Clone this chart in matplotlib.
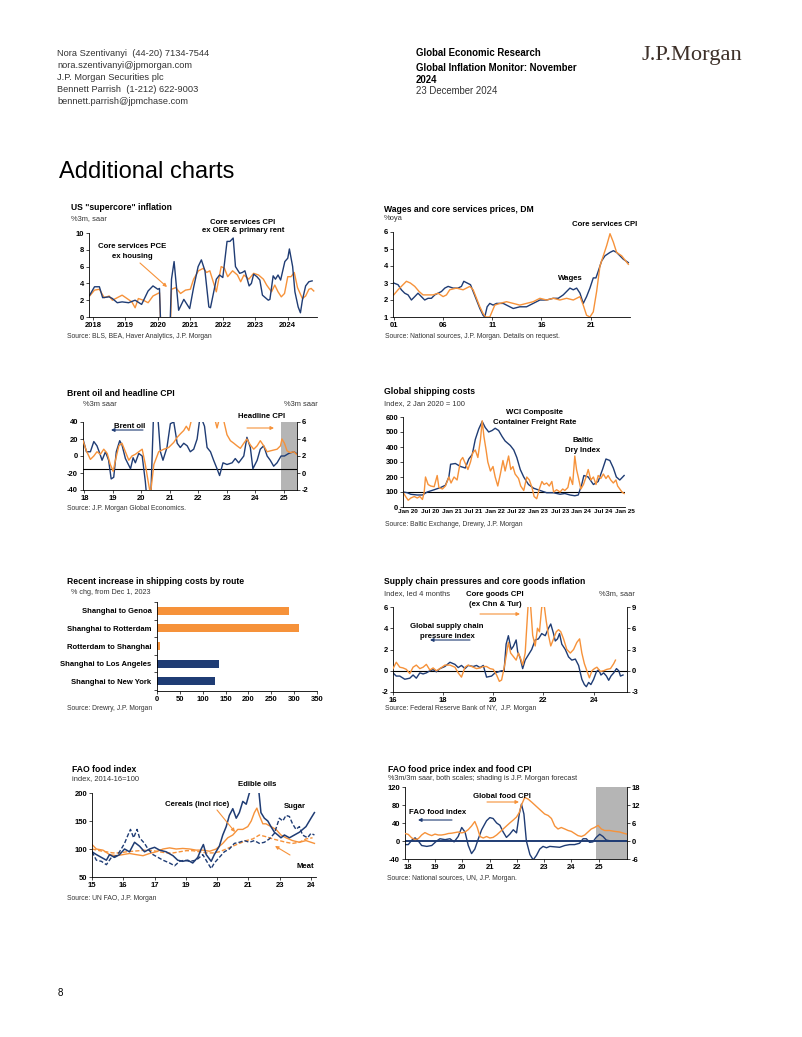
import matplotlib
matplotlib.use("Agg")
import matplotlib.pyplot as plt
from matplotlib.patches import FancyArrowPatch

# ---------------- data ----------------
# US "supercore" inflation, %3m saar
cpi_x = [2017.9, 2018.05, 2018.2, 2018.3, 2018.5, 2018.6, 2018.75, 2018.9, 2019.1, 2019.3,
         2019.5, 2019.7, 2019.85, 2020.0, 2020.05, 2020.12, 2020.25, 2020.36, 2020.42, 2020.5,
         2020.64, 2020.8, 2020.98, 2021.1, 2021.24, 2021.34, 2021.45, 2021.57, 2021.62, 2021.8,
         2021.9, 2022.0, 2022.13, 2022.22, 2022.32, 2022.39, 2022.52, 2022.6, 2022.68, 2022.81,
         2022.88, 2022.95, 2023.05, 2023.14, 2023.22, 2023.4, 2023.45, 2023.55, 2023.62, 2023.7,
         2023.78, 2023.91, 2024.0, 2024.05, 2024.15, 2024.22, 2024.32, 2024.39, 2024.45, 2024.55,
         2024.65, 2024.75]
cpi_y = [2.6, 3.6, 3.6, 2.3, 2.4, 2.2, 1.7, 1.8, 1.7, 2.0,
         1.5, 3.1, 3.7, 3.3, 3.4, -5.0, -8.0, -3.0, 4.5, 6.6,
         0.8, 2.1, 1.0, 3.5, 6.0, 6.8, 5.5, 1.2, 1.1, 4.5,
         5.0, 4.7, 9.0, 9.0, 9.4, 6.0, 5.2, 5.3, 5.5, 3.7,
         4.0, 5.1, 4.8, 4.4, 2.6, 2.0, 2.1, 4.9, 4.5, 5.0,
         4.4, 6.6, 7.0, 8.1, 6.0, 3.0, 1.2, 0.5, 2.0, 3.7,
         4.2, 4.3]
pce_x = [2017.9, 2018.05, 2018.2, 2018.35, 2018.5, 2018.6, 2018.75, 2018.9, 2019.05, 2019.2,
         2019.3, 2019.4, 2019.55, 2019.7, 2019.85, 2020.0, 2020.05, 2020.12, 2020.25, 2020.38,
         2020.42, 2020.55, 2020.7, 2020.85, 2021.0, 2021.1, 2021.25, 2021.4, 2021.5, 2021.6,
         2021.8, 2021.95, 2022.05, 2022.15, 2022.3, 2022.45, 2022.55, 2022.65, 2022.8, 2022.95,
         2023.1, 2023.25, 2023.35, 2023.5, 2023.6, 2023.7, 2023.8, 2023.9, 2024.0, 2024.1,
         2024.2, 2024.3, 2024.45, 2024.55, 2024.65, 2024.72, 2024.8]
pce_y = [2.5, 3.2, 3.3, 2.3, 2.5, 2.0, 2.3, 2.6, 2.2, 1.8,
         1.1, 2.2, 2.0, 1.7, 2.5, 2.8, 2.9, -4.0, -6.0, -2.0,
         3.3, 3.5, 2.8, 3.2, 3.3, 4.5, 5.5, 5.8, 5.3, 5.5,
         3.0, 6.0, 5.8, 4.8, 5.5, 5.0, 4.2, 5.0, 4.5, 5.2,
         5.0, 4.5, 3.8, 3.0, 3.8, 3.0, 2.4, 2.8, 4.8, 4.8,
         5.3, 3.5, 2.2, 2.5, 3.3, 3.4, 3.1]

# Wages and core services prices, DM, %oya
wage_x = [2001.0, 2001.44, 2001.78, 2002.12, 2002.46, 2002.8, 2003.14, 2003.47, 2003.81, 2004.15,
          2004.49, 2004.83, 2005.17, 2005.51, 2005.85, 2006.19, 2006.53, 2007.03, 2007.54, 2007.88,
          2008.12, 2008.46, 2008.8, 2009.07, 2009.41, 2009.75, 2010.08, 2010.25, 2010.49, 2010.76,
          2011.1, 2011.44, 2012.12, 2012.8, 2013.14, 2013.81, 2014.49, 2015.17, 2015.85, 2016.53,
          2017.2, 2017.71, 2018.22, 2018.56, 2018.9, 2019.24, 2019.58, 2019.92, 2020.25, 2020.59,
          2020.93, 2021.27, 2021.54, 2021.78, 2022.12, 2022.46, 2022.97, 2023.31, 2023.64, 2023.98,
          2024.32, 2024.83]
wage_y = [3.0, 2.9, 2.6, 2.4, 2.3, 2.0, 2.2, 2.4, 2.2, 2.0,
          2.1, 2.1, 2.3, 2.4, 2.5, 2.7, 2.8, 2.7, 2.7, 2.8,
          3.1, 3.0, 2.9, 2.5, 2.0, 1.5, 1.1, 1.0, 1.6, 1.8,
          1.7, 1.8, 1.8, 1.6, 1.5, 1.6, 1.6, 1.8, 2.0, 2.0,
          2.1, 2.1, 2.3, 2.5, 2.7, 2.6, 2.7, 2.4, 1.8, 2.2,
          2.7, 3.3, 3.3, 3.7, 4.3, 4.6, 4.8, 4.9, 4.8, 4.6,
          4.4, 4.2]
csv_x = [2001.0, 2001.44, 2001.95, 2002.29, 2002.69, 2003.14, 2003.58, 2003.98, 2004.49, 2005.0,
         2005.51, 2006.02, 2006.36, 2006.69, 2007.37, 2008.05, 2008.39, 2008.73, 2009.07, 2009.41,
         2009.75, 2010.08, 2010.36, 2010.76, 2011.27, 2011.78, 2012.46, 2013.14, 2013.81, 2014.49,
         2015.17, 2015.85, 2016.53, 2017.2, 2017.88, 2018.56, 2019.24, 2019.92, 2020.25, 2020.59,
         2020.93, 2021.27, 2021.61, 2021.95, 2022.29, 2022.63, 2022.97, 2023.31, 2023.64, 2024.15,
         2024.83]
csv_y = [2.3, 2.6, 2.9, 3.1, 3.0, 2.8, 2.5, 2.3, 2.3, 2.3,
         2.4, 2.2, 2.3, 2.6, 2.7, 2.6, 2.7, 2.8, 2.6, 2.1,
         1.6, 1.2, 1.0, 1.0, 1.7, 1.8, 1.9, 1.8, 1.7, 1.8,
         1.9, 2.1, 2.0, 2.1, 2.0, 2.1, 2.0, 2.2, 1.7, 1.1,
         1.0, 1.3, 2.5, 4.0, 4.6, 5.2, 5.9, 5.4, 4.8, 4.6,
         4.1]

# Brent oil (%3m saar, lhs) and headline CPI (%3m saar, rhs)
brent_x = [2017.95, 2018.07, 2018.21, 2018.33, 2018.44, 2018.54, 2018.62, 2018.74, 2018.85, 2018.94,
           2019.03, 2019.12, 2019.24, 2019.32, 2019.44, 2019.62, 2019.71, 2019.79, 2019.91, 2020.03,
           2020.14, 2020.22, 2020.32, 2020.44, 2020.55, 2020.67, 2020.76, 2020.9, 2021.02, 2021.14,
           2021.26, 2021.37, 2021.49, 2021.61, 2021.72, 2021.84, 2021.96, 2022.07, 2022.22, 2022.31,
           2022.43, 2022.54, 2022.66, 2022.75, 2022.87, 2023.01, 2023.19, 2023.3, 2023.42, 2023.6,
           2023.71, 2023.83, 2023.92, 2024.07, 2024.18, 2024.3, 2024.42, 2024.53, 2024.65, 2024.77,
           2024.91, 2025.03, 2025.18, 2025.36, 2025.45]
brent_y = [20, 5, 5, 17, 12, 3, -5, 5, -5, -27,
           -25, 5, 18, 13, -3, -15, -2, -8, 3, 0,
           -30, -60, -60, 60, 60, 5, -5, 10, 38, 40,
           15, 10, 15, 12, 5, 8, 20, 48, 35, 10,
           5, -5, -15, -23, -8, -10, -8, -3, -8, 0,
           22, 10, -15, -5, 8, 12, 0, -5, -12, -8,
           0, 0, 3, 5, 3]
hcpi_x = [2017.95, 2018.07, 2018.21, 2018.33, 2018.44, 2018.56, 2018.68, 2018.8, 2018.91, 2019.01,
          2019.09, 2019.21, 2019.32, 2019.44, 2019.56, 2019.67, 2019.79, 2019.91, 2020.03, 2020.14,
          2020.24, 2020.32, 2020.44, 2020.61, 2020.79, 2020.96, 2021.14, 2021.26, 2021.37, 2021.49,
          2021.58, 2021.67, 2021.78, 2022.07, 2022.43, 2022.57, 2022.66, 2022.75, 2022.84, 2022.92,
          2023.01, 2023.13, 2023.25, 2023.36, 2023.48, 2023.6, 2023.71, 2023.83, 2023.95, 2024.07,
          2024.18, 2024.3, 2024.42, 2024.53, 2024.65, 2024.77, 2024.89, 2024.94, 2025.03, 2025.12,
          2025.24, 2025.36, 2025.45]
hcpi_y = [3.8, 2.6, 1.6, 2.0, 2.5, 2.2, 2.8, 2.3, 1.0, 0.2,
          1.5, 3.2, 3.5, 2.5, 1.5, 2.0, 2.2, 2.5, 2.8, 1.0,
          -1.0, -2.5, 1.0, 2.5, 2.8, 3.0, 3.6, 4.2, 4.6, 5.0,
          5.5, 5.0, 6.5, 8.0, 7.5, 6.5, 5.3, 6.5, 7.0, 5.8,
          4.5, 3.8, 3.5, 3.2, 2.9, 3.5, 4.0, 3.3, 2.8, 3.2,
          3.8, 3.2, 2.5, 2.6, 2.7, 2.8, 3.2, 4.0, 3.5, 2.6,
          2.4, 2.5, 2.2]

# Global shipping costs, index 2 Jan 2020 = 100
wci_x = [2020.0, 2020.09, 2020.17, 2020.32, 2020.44, 2020.55, 2020.71, 2020.86, 2020.97, 2021.05,
         2021.09, 2021.2, 2021.32, 2021.43, 2021.51, 2021.59, 2021.66, 2021.74, 2021.82, 2021.89,
         2021.97, 2022.05, 2022.12, 2022.2, 2022.28, 2022.35, 2022.47, 2022.55, 2022.62, 2022.7,
         2022.78, 2022.89, 2023.01, 2023.16, 2023.31, 2023.47, 2023.62, 2023.73, 2023.85, 2023.96,
         2024.04, 2024.12, 2024.17, 2024.27, 2024.39, 2024.5, 2024.6, 2024.68, 2024.77, 2024.85,
         2024.92, 2025.0, 2025.1]
wci_y = [100, 95, 85, 80, 80, 100, 115, 130, 145, 200,
         285, 290, 270, 260, 320, 350, 450, 520, 570, 530,
         500, 510, 525, 510, 470, 440, 410, 380, 330, 250,
         200, 150, 125, 110, 95, 95, 85, 90, 80, 75,
         80, 150, 210, 200, 150, 170, 250, 320, 310, 260,
         200, 180, 210]
bdi_x = [2020.0, 2020.05, 2020.11, 2020.17, 2020.25, 2020.32, 2020.38, 2020.44, 2020.48, 2020.51,
         2020.57, 2020.63, 2020.71, 2020.78, 2020.82, 2020.9, 2020.97, 2021.05, 2021.1, 2021.17,
         2021.24, 2021.32, 2021.37, 2021.43, 2021.49, 2021.55, 2021.6, 2021.66, 2021.72, 2021.78,
         2021.82, 2021.86, 2021.91, 2021.95, 2022.01, 2022.07, 2022.12, 2022.18, 2022.24, 2022.3,
         2022.35, 2022.43, 2022.48, 2022.53, 2022.58, 2022.66, 2022.71, 2022.78, 2022.85, 2022.91,
         2022.97, 2023.02, 2023.08, 2023.14, 2023.2, 2023.25, 2023.31, 2023.37, 2023.43, 2023.47,
         2023.54, 2023.62, 2023.68, 2023.73, 2023.8, 2023.85, 2023.91, 2023.96, 2024.0, 2024.04,
         2024.1, 2024.16, 2024.22, 2024.27, 2024.33, 2024.39, 2024.45, 2024.5, 2024.56, 2024.62,
         2024.68, 2024.73, 2024.79, 2024.85, 2024.91, 2024.95, 2025.0, 2025.05, 2025.1]
bdi_y = [95, 70, 45, 60, 70, 60, 70, 50, 100, 200,
         150, 140, 135, 210, 130, 120, 140, 200, 160, 200,
         180, 310, 330, 290, 250, 300, 360, 380, 330, 450,
         575, 470, 380, 300, 240, 270, 200, 140, 220, 310,
         240, 340, 250, 270, 220, 190, 140, 110, 200, 180,
         130, 70, 55, 120, 170, 150, 160, 140, 170, 100,
         115, 100, 120, 110, 130, 200, 150, 340, 250, 200,
         120, 150, 200, 250, 180, 200, 150, 210, 190, 220,
         190, 210, 180, 160, 180, 140, 120, 100, 90]

# Recent increase in shipping costs by route, % chg from Dec 1, 2023
routes = ["Shanghai to Genoa", "Shanghai to Rotterdam", "Rotterdam to Shanghai",
          "Shanghai to Los Angeles", "Shanghai to New York"]
route_chg = [288, 311, 7, 136, 127]

# Supply chain pressures (lhs, led 4 months) and core goods inflation (rhs)
gscpi_x = [2016.0, 2016.13, 2016.27, 2016.47, 2016.67, 2016.8, 2016.93, 2017.07, 2017.2, 2017.33,
           2017.47, 2017.6, 2017.73, 2017.87, 2018.07, 2018.27, 2018.47, 2018.6, 2018.73, 2018.87,
           2019.0, 2019.2, 2019.33, 2019.47, 2019.6, 2019.73, 2019.93, 2020.07, 2020.2, 2020.33,
           2020.43, 2020.51, 2020.6, 2020.71, 2020.8, 2020.91, 2020.97, 2021.07, 2021.17, 2021.27,
           2021.4, 2021.53, 2021.67, 2021.8, 2021.93, 2022.07, 2022.2, 2022.29, 2022.4, 2022.47,
           2022.56, 2022.64, 2022.73, 2022.87, 2023.0, 2023.13, 2023.27, 2023.4, 2023.53, 2023.63,
           2023.71, 2023.8, 2023.89, 2024.0, 2024.11, 2024.2, 2024.29, 2024.4, 2024.51, 2024.6,
           2024.69, 2024.8, 2024.91, 2025.0, 2025.07, 2025.17]
gscpi_y = [-0.2, -0.5, -0.5, -0.8, -0.7, -0.4, -0.7, -0.2, -0.3, -0.2,
           0.0, 0.1, -0.1, 0.2, 0.4, 0.8, 0.6, 0.3, 0.5, 0.2,
           0.5, 0.4, 0.5, 0.3, 0.5, -0.6, -0.5, -0.2, -0.1, 0.0,
           0.0, 2.5, 3.3, 2.0, 2.3, 2.9, 1.8, 1.2, 0.2, 1.0,
           1.5, 2.0, 2.9, 3.0, 3.5, 3.3, 4.0, 4.4, 3.5, 2.8,
           3.0, 3.5, 2.5, 2.0, 1.3, 1.0, 1.1, 0.5, -0.8, -1.3,
           -1.5, -1.1, -1.3, -0.8, -0.1, 0.1, -0.4, -0.2, -0.5, -0.9,
           -0.5, -0.2, 0.2, 0.0, -0.5, -0.4]
cgoods_x = [2016.0, 2016.13, 2016.27, 2016.4, 2016.53, 2016.67, 2016.8, 2016.93, 2017.07, 2017.2,
            2017.33, 2017.47, 2017.6, 2017.73, 2017.87, 2018.07, 2018.27, 2018.47, 2018.6, 2018.73,
            2018.87, 2019.0, 2019.2, 2019.33, 2019.47, 2019.6, 2019.73, 2019.87, 2020.0, 2020.13,
            2020.24, 2020.33, 2020.43, 2020.51, 2020.6, 2020.69, 2020.8, 2020.91, 2021.0, 2021.09,
            2021.17, 2021.27, 2021.33, 2021.4, 2021.49, 2021.57, 2021.67, 2021.76, 2021.84, 2021.93,
            2022.03, 2022.11, 2022.2, 2022.29, 2022.4, 2022.51, 2022.6, 2022.69, 2022.8, 2022.93,
            2023.07, 2023.2, 2023.33, 2023.44, 2023.53, 2023.63, 2023.73, 2023.83, 2023.93, 2024.03,
            2024.13, 2024.27, 2024.4, 2024.53, 2024.67, 2024.8, 2024.87]
cgoods_y = [0.3, 1.2, 0.5, 0.4, 0.2, -0.4, 0.5, 0.8, 0.3, 0.5,
            0.9, 0.1, 0.4, 0.0, 0.3, 0.8, 0.8, 0.5, -0.3, -0.9,
            0.5, 0.8, 0.5, 0.3, 0.4, 0.6, 0.6, 0.3, 0.2, -0.6,
            -1.5, -1.3, 0.4, 2.0, 4.0, 2.5, 2.0, 1.5, 2.5, 1.7,
            0.8, 2.5, 6.0, 10.0, 9.0, 5.0, 3.5, 6.0, 5.5, 9.0,
            9.2, 7.0, 5.0, 3.5, 4.5, 5.5, 5.8, 5.5, 4.5, 3.0,
            2.5, 3.0, 4.0, 4.5, 2.5, 1.0, 0.0, -1.0, 0.0, 0.3,
            0.5, -0.1, 0.0, 0.2, 0.3, 1.0, 1.5]

# FAO food index, 2014-16=100 (x in tick units of the evenly spaced year labels)
fao_labels = ["15", "16", "17", "19", "20", "21", "23", "24"]
oils_t = [0, 0.14, 0.3, 0.46, 0.56, 0.72, 0.88, 1.04, 1.2, 1.36,
          1.52, 1.68, 1.84, 2.0, 2.16, 2.37, 2.59, 2.74, 2.9, 3.06,
          3.22, 3.38, 3.49, 3.56, 3.65, 3.81, 3.91, 4.07, 4.18, 4.29,
          4.39, 4.5, 4.61, 4.71, 4.82, 4.93, 5.03, 5.12, 5.24, 5.33,
          5.4, 5.51, 5.62, 5.72, 5.83, 5.94, 6.04, 6.15, 6.31, 6.47,
          6.63, 6.84, 7.0, 7.11]
oils_v = [95, 90, 85, 80, 90, 85, 90, 100, 95, 112,
          105, 95, 100, 103, 98, 95, 88, 80, 78, 80,
          75, 85, 100, 108, 90, 78, 90, 105, 125, 140,
          160, 172, 155, 165, 185, 180, 200, 205, 230, 205,
          165, 155, 150, 140, 130, 125, 120, 125, 120, 125,
          130, 140, 155, 165]
sugar_t = [0, 0.14, 0.3, 0.46, 0.62, 0.78, 0.88, 1.04, 1.15, 1.23,
           1.33, 1.44, 1.52, 1.68, 1.79, 1.95, 2.11, 2.27, 2.48, 2.64,
           2.8, 2.96, 3.12, 3.33, 3.54, 3.7, 3.81, 3.91, 4.07, 4.23,
           4.39, 4.55, 4.71, 4.87, 5.03, 5.19, 5.35, 5.51, 5.67, 5.83,
           5.99, 6.1, 6.2, 6.31, 6.41, 6.52, 6.63, 6.73, 6.89, 7.0,
           7.11]
sugar_v = [95, 80, 78, 72, 85, 88, 95, 110, 125, 135,
           120, 135, 120, 110, 100, 90, 85, 80, 75, 70,
           78, 80, 78, 80, 90, 75, 65, 75, 85, 95,
           100, 110, 112, 115, 112, 115, 110, 112, 118, 128,
           155, 150, 160, 158, 145, 135, 140, 125, 120, 128,
           125]
cereal_t = [0, 0.14, 0.35, 0.56, 0.78, 0.99, 1.2, 1.41, 1.63, 1.84,
            2.05, 2.27, 2.48, 2.69, 2.9, 3.12, 3.33, 3.54, 3.76, 3.97,
            4.18, 4.34, 4.5, 4.66, 4.82, 4.98, 5.09, 5.19, 5.27, 5.35,
            5.46, 5.56, 5.72, 5.88, 6.04, 6.2, 6.41, 6.63, 6.84, 7.0,
            7.11]
cereal_v = [108, 100, 98, 90, 88, 90, 92, 90, 88, 92,
            95, 100, 102, 100, 101, 100, 98, 98, 96, 100,
            110, 120, 125, 135, 135, 140, 150, 165, 173, 160,
            145, 145, 140, 135, 125, 120, 115, 112, 115, 112,
            110]
meat_t = [0, 0.24, 0.46, 0.67, 0.88, 1.1, 1.31, 1.52, 1.73, 1.95,
          2.16, 2.37, 2.59, 2.8, 3.01, 3.22, 3.44, 3.65, 3.86, 4.07,
          4.29, 4.5, 4.71, 4.93, 5.14, 5.35, 5.56, 5.78, 5.99, 6.2,
          6.41, 6.63, 6.84, 7.05]
meat_v = [100, 97, 95, 93, 93, 95, 96, 97, 98, 97,
          95, 93, 93, 95, 97, 97, 95, 93, 93, 95,
          100, 105, 110, 115, 118, 125, 122, 118, 115, 112,
          110, 112, 118, 120]

# FAO food price index (lhs) and global food CPI (rhs), %3m/3m saar
faoi_x = [2017.9, 2018.02, 2018.15, 2018.27, 2018.39, 2018.51, 2018.7, 2018.88, 2019.06, 2019.18,
          2019.37, 2019.55, 2019.7, 2019.85, 2019.98, 2020.1, 2020.22, 2020.34, 2020.46, 2020.59,
          2020.71, 2020.89, 2021.01, 2021.13, 2021.26, 2021.38, 2021.5, 2021.62, 2021.74, 2021.87,
          2021.99, 2022.09, 2022.17, 2022.26, 2022.35, 2022.48, 2022.6, 2022.72, 2022.84, 2022.96,
          2023.09, 2023.21, 2023.39, 2023.57, 2023.76, 2023.94, 2024.12, 2024.3, 2024.43, 2024.55,
          2024.67, 2024.79, 2024.91, 2025.04, 2025.16, 2025.28, 2025.46, 2025.77, 2026.01]
faoi_y = [-8, -8, 2, 7, 0, -10, -12, -10, 0, 5,
          3, 5, -2, 10, 30, 20, -10, -28, -18, 5,
          25, 45, 52, 50, 40, 35, 20, 8, 15, 25,
          18, 60, 82, 60, 0, -30, -42, -32, -18, -12,
          -15, -12, -13, -14, -10, -8, -8, -5, 5, 5,
          -3, -2, 8, 15, 10, 2, 0, 0, 0]
fcpi_x = [2017.9, 2018.02, 2018.15, 2018.27, 2018.39, 2018.51, 2018.63, 2018.76, 2018.88, 2019.0,
          2019.12, 2019.24, 2019.37, 2019.49, 2019.61, 2019.73, 2019.85, 2019.98, 2020.1, 2020.22,
          2020.34, 2020.46, 2020.55, 2020.65, 2020.77, 2020.89, 2021.01, 2021.13, 2021.26, 2021.38,
          2021.5, 2021.62, 2021.74, 2021.87, 2021.99, 2022.09, 2022.17, 2022.29, 2022.41, 2022.54,
          2022.66, 2022.78, 2022.9, 2023.02, 2023.15, 2023.27, 2023.39, 2023.51, 2023.63, 2023.76,
          2023.88, 2024.0, 2024.12, 2024.24, 2024.37, 2024.49, 2024.61, 2024.73, 2024.85, 2024.98,
          2025.1, 2025.22, 2025.4, 2025.59, 2025.77, 2025.95, 2026.04]
fcpi_y = [2.5, 2.2, 1.0, 0.5, 0.8, 2.0, 2.8, 2.2, 1.8, 2.3,
          2.0, 2.0, 2.2, 2.5, 2.6, 2.8, 3.0, 2.7, 3.0, 3.8,
          5.0, 6.5, 4.5, 1.5, 1.0, 1.5, 1.0, 1.2, 2.0, 3.0,
          4.0, 5.0, 6.0, 7.0, 8.0, 9.5, 12.0, 14.5, 14.0, 13.0,
          12.0, 11.0, 10.0, 9.0, 8.5, 7.5, 5.0, 4.0, 4.5, 4.0,
          3.5, 3.2, 2.5, 1.8, 1.5, 2.0, 3.0, 4.0, 4.5, 5.2,
          4.0, 3.5, 3.5, 3.2, 3.0, 2.5, 2.3]

# ---------------- layout helpers ----------------
W, H = 802, 1037
NAVY = "#1f3c74"
ORANGE = "#f6923a"
SHADE = "#b5b5b5"
GREY = "#333333"

plt.rcParams["font.family"] = ["Liberation Sans", "DejaVu Sans"]
plt.rcParams["axes.unicode_minus"] = False
fig = plt.figure(figsize=(W / 100, H / 100), dpi=100)


def px_axes(l, t, r, b):
    return fig.add_axes([l / W, 1 - b / H, (r - l) / W, (b - t) / H])


def txt(x, y, s, size=5.5, weight="normal", ha="left", color="black", **kw):
    fig.text(x / W, 1 - y / H, s, fontsize=size, fontweight=weight, ha=ha,
             va="center", color=color, **kw)


def arrow(x0, y0, x1, y1, color):
    fig.add_artist(FancyArrowPatch((x0 / W, 1 - y0 / H), (x1 / W, 1 - y1 / H),
                                   transform=fig.transFigure, arrowstyle="-|>",
                                   mutation_scale=5, color=color, lw=0.8,
                                   shrinkA=0, shrinkB=0))


def style(ax, keep=("left", "bottom")):
    for name, sp in ax.spines.items():
        sp.set_visible(name in keep)
        sp.set_linewidth(0.6)
    ax.set_facecolor("none")
    ax.tick_params(labelsize=5.5, length=2, width=0.5, pad=1.5)


def bold_ticks(ax):
    for lab in ax.get_xticklabels() + ax.get_yticklabels():
        lab.set_fontweight("bold")


# ---------------- page header ----------------
for i, line in enumerate(["Nora Szentivanyi  (44-20) 7134-7544", "nora.szentivanyi@jpmorgan.com",
                          "J.P. Morgan Securities plc"]):
    txt(57, 53 + 12 * i, line, size=6.7, color=GREY)
txt(57, 90, "Bennett Parrish  (1-212) 622-9003", size=6.7, color=GREY)
txt(57, 102, "bennett.parrish@jpmchase.com", size=6.7, color=GREY)
txt(416, 53, "Global Economic Research", size=6.9, weight="bold")
txt(416, 68, "Global Inflation Monitor: November", size=6.9, weight="bold")
txt(416, 80, "2024", size=6.9, weight="bold")
txt(416, 91, "23 December 2024", size=6.9, color=GREY)
fig.text(641 / W, 1 - 60 / H, "J.P.Morgan", fontsize=16.2, color="#3d3029",
         family=["Liberation Serif", "DejaVu Serif"], va="baseline")
txt(59, 172, "Additional charts", size=17)
txt(58, 993, "8", size=7)

# ---------------- chart 1: US supercore ----------------
txt(71, 207, 'US "supercore" inflation', size=6.2, weight="bold")
txt(71, 219, "%3m, saar", size=5.4, color=GREY)
ax1 = px_axes(89, 233, 317, 317)
style(ax1)
ax1.plot(pce_x, pce_y, color=ORANGE, lw=1.0)
ax1.plot(cpi_x, cpi_y, color=NAVY, lw=1.0)
ax1.set_xlim(2017.88, 2024.9)
ax1.set_ylim(0, 10)
ax1.set_yticks(range(0, 11, 2))
ax1.set_xticks(range(2018, 2025))
ax1.set_xticklabels([str(y) for y in range(2018, 2025)])
bold_ticks(ax1)
txt(243, 222, "Core services CPI", size=5.6, weight="bold", ha="center")
txt(243, 231, "ex OER & primary rent", size=5.6, weight="bold", ha="center")
txt(132, 247, "Core services PCE", size=5.6, weight="bold", ha="center")
txt(132, 256, "ex housing", size=5.6, weight="bold", ha="center")
arrow(140, 263, 167, 287, ORANGE)
txt(67, 337, "Source: BLS, BEA, Haver Analytics, J.P. Morgan", size=4.9, color=GREY)

# ---------------- chart 2: wages ----------------
txt(384, 209, "Wages and core services prices, DM", size=6.2, weight="bold")
txt(384, 219, "%oya", size=5.4, color=GREY)
ax2 = px_axes(393, 232, 630, 317)
style(ax2)
ax2.plot(wage_x, wage_y, color=NAVY, lw=1.0)
ax2.plot(csv_x, csv_y, color=ORANGE, lw=1.0)
ax2.set_xlim(2000.93, 2025.0)
ax2.set_ylim(1, 6)
ax2.set_yticks(range(1, 7))
ax2.set_xticks([2001, 2006, 2011, 2016, 2021])
ax2.set_xticklabels(["01", "06", "11", "16", "21"])
bold_ticks(ax2)
txt(605, 224, "Core services CPI", size=5.6, weight="bold", ha="center")
txt(570, 278, "Wages", size=5.6, weight="bold", ha="center")
txt(385, 336, "Source: National sources, J.P. Morgan. Details on request.", size=4.9, color=GREY)

# ---------------- chart 3: Brent ----------------
txt(67, 394, "Brent oil and headline CPI", size=6.2, weight="bold")
txt(83, 404, "%3m saar", size=5.4, color=GREY)
txt(318, 404, "%3m saar", size=5.4, color=GREY, ha="right")
ax3 = px_axes(83, 422, 297, 490)
style(ax3)
ax3.axvspan(2024.92, 2025.47, color=SHADE, lw=0)
ax3.axhline(-15, color="black", lw=0.8)
ax3.plot(brent_x, brent_y, color=NAVY, lw=1.0)
ax3.set_xlim(2017.95, 2025.47)
ax3.set_ylim(-40, 40)
ax3.set_yticks(range(-40, 41, 20))
ax3.set_xticks(range(2018, 2026))
ax3.set_xticklabels([str(y)[2:] for y in range(2018, 2026)])
ax3r = ax3.twinx()
style(ax3r, keep=("right",))
ax3r.plot(hcpi_x, hcpi_y, color=ORANGE, lw=1.0)
ax3r.set_ylim(-2, 6)
ax3r.set_yticks(range(-2, 7, 2))
bold_ticks(ax3)
bold_ticks(ax3r)
txt(130, 426, "Brent oil", size=5.6, weight="bold", ha="center")
arrow(143, 430, 111, 430, NAVY)
txt(262, 417, "Headline CPI", size=5.6, weight="bold", ha="center")
arrow(247, 428, 274, 428, ORANGE)
txt(67, 508, "Source: J.P. Morgan Global Economics.", size=4.9, color=GREY)

# ---------------- chart 4: shipping ----------------
txt(384, 391, "Global shipping costs", size=6.2, weight="bold")
txt(384, 404, "Index, 2 Jan 2020 = 100", size=5.4, color=GREY)
ax4 = px_axes(403, 417, 625, 507)
style(ax4)
ax4.axhline(100, color="black", lw=0.8)
ax4.plot(wci_x, wci_y, color=NAVY, lw=1.0)
ax4.plot(bdi_x, bdi_y, color=ORANGE, lw=1.0)
ax4.set_xlim(2019.99, 2025.12)
ax4.set_ylim(0, 600)
ax4.set_yticks(range(0, 601, 100))
half_years = [2020 + 0.5 * i for i in range(11)]
ax4.set_xticks([h + 0.11 for h in half_years])
ax4.set_xticklabels([("Jan " if h % 1 == 0 else "Jul ") + str(int(h))[2:] for h in half_years])
ax4.tick_params(axis="x", labelsize=4.6, length=0)
bold_ticks(ax4)
txt(535, 413, "WCI Composite", size=5.6, weight="bold", ha="center")
txt(535, 423, "Container Freight Rate", size=5.6, weight="bold", ha="center")
txt(583, 441, "Baltic", size=5.6, weight="bold", ha="center")
txt(583, 450, "Dry Index", size=5.6, weight="bold", ha="center")
txt(385, 525, "Source: Baltic Exchange, Drewry, J.P. Morgan", size=4.9, color=GREY)

# ---------------- chart 5: routes ----------------
txt(67, 581, "Recent increase in shipping costs by route", size=6.2, weight="bold")
txt(71, 593, "% chg, from Dec 1, 2023", size=5.2, color=GREY)
ax5 = px_axes(157, 602, 317, 691)
style(ax5)
pos = list(range(len(routes) - 1, -1, -1))
ax5.barh(pos, route_chg, height=0.45,
         color=[ORANGE, ORANGE, ORANGE, NAVY, NAVY])
ax5.set_xlim(0, 350)
ax5.set_ylim(-0.55, 4.45)
ax5.set_xticks(range(0, 351, 50))
ax5.set_yticks(pos)
ax5.set_yticklabels(routes)
ax5.set_yticks([p + 0.5 for p in range(-1, 5)], minor=True)
ax5.tick_params(axis="y", which="major", length=0, pad=4)
ax5.tick_params(axis="y", which="minor", length=2, width=0.5)
bold_ticks(ax5)
txt(67, 708, "Source: Drewry, J.P. Morgan", size=4.9, color=GREY)

# ---------------- chart 6: supply chain ----------------
txt(384, 581, "Supply chain pressures and core goods inflation", size=6.2, weight="bold")
txt(384, 594, "Index, led 4 months", size=5.4, color=GREY)
txt(635, 594, "%3m, saar", size=5.4, color=GREY, ha="right")
ax6 = px_axes(393, 607, 627, 692)
style(ax6)
ax6.axhline(0, color="black", lw=0.8)
ax6.plot(gscpi_x, gscpi_y, color=NAVY, lw=1.0)
ax6.set_xlim(2016.0, 2025.33)
ax6.set_ylim(-2, 6)
ax6.set_yticks(range(-2, 7, 2))
ax6.set_xticks(range(2016, 2025, 2))
ax6.set_xticklabels([str(y)[2:] for y in range(2016, 2025, 2)])
ax6r = ax6.twinx()
style(ax6r, keep=("right",))
ax6r.plot(cgoods_x, cgoods_y, color=ORANGE, lw=1.0)
ax6r.set_ylim(-3, 9)
ax6r.set_yticks(range(-3, 10, 3))
bold_ticks(ax6)
bold_ticks(ax6r)
txt(495, 595, "Core goods CPI", size=5.6, weight="bold", ha="center")
txt(495, 604, "(ex Chn & Tur)", size=5.6, weight="bold", ha="center")
arrow(480, 614, 520, 614, ORANGE)
txt(447, 627, "Global supply chain", size=5.6, weight="bold", ha="center")
txt(447, 636, "pressure index", size=5.6, weight="bold", ha="center")
arrow(470, 640, 430, 640, NAVY)
txt(385, 709, "Source: Federal Reserve Bank of NY,  J.P. Morgan", size=4.9, color=GREY)

# ---------------- chart 7: FAO food index ----------------
txt(72, 769, "FAO food index", size=6.2, weight="bold")
txt(72, 779, "index, 2014-16=100", size=5.4, color=GREY)
ax7 = px_axes(92, 793, 316, 877)
style(ax7)
ax7.plot(meat_t, meat_v, color=ORANGE, lw=1.0, dashes=(3, 1.5))
ax7.plot(cereal_t, cereal_v, color=ORANGE, lw=1.0)
ax7.plot(sugar_t, sugar_v, color=NAVY, lw=1.0, dashes=(3, 1.5))
ax7.plot(oils_t, oils_v, color=NAVY, lw=1.1)
ax7.set_xlim(0, 7.16)
ax7.set_ylim(50, 200)
ax7.set_yticks(range(50, 201, 50))
ax7.set_xticks(range(len(fao_labels)))
ax7.set_xticklabels(fao_labels)
bold_ticks(ax7)
txt(257, 784, "Edible oils", size=5.6, weight="bold", ha="center")
txt(197, 804, "Cereals (incl rice)", size=5.6, weight="bold", ha="center")
arrow(217, 810, 235, 832, ORANGE)
txt(295, 807, "Sugar", size=5.6, weight="bold", ha="center")
txt(305, 866, "Meat", size=5.6, weight="bold", ha="center")
arrow(290, 855, 275, 846, ORANGE)
txt(67, 899, "Source: UN FAO, J.P. Morgan", size=4.9, color=GREY)

# ---------------- chart 8: FAO vs food CPI ----------------
txt(388, 769, "FAO food price index and food CPI", size=6.2, weight="bold")
txt(388, 778, "%3m/3m saar, both scales; shading is J.P. Morgan forecast", size=5.2, color=GREY)
ax8 = px_axes(405, 787, 627, 859)
style(ax8)
ax8.axvspan(2024.91, 2026.04, color=SHADE, lw=0)
ax8.axhline(0, color=NAVY, lw=1.4)
ax8.plot(faoi_x, faoi_y, color=NAVY, lw=1.0)
ax8.set_xlim(2017.9, 2026.04)
ax8.set_ylim(-40, 120)
ax8.set_yticks(range(-40, 121, 40))
ax8.set_xticks(range(2018, 2026))
ax8.set_xticklabels([str(y)[2:] for y in range(2018, 2026)])
ax8r = ax8.twinx()
style(ax8r, keep=("right",))
ax8r.plot(fcpi_x, fcpi_y, color=ORANGE, lw=1.0)
ax8r.set_ylim(-6, 18)
ax8r.set_yticks(range(-6, 19, 6))
bold_ticks(ax8)
bold_ticks(ax8r)
txt(502, 796, "Global food CPI", size=5.6, weight="bold", ha="center")
arrow(487, 802, 519, 802, ORANGE)
txt(438, 812, "FAO food index", size=5.6, weight="bold", ha="center")
arrow(452, 820, 418, 820, NAVY)
txt(387, 879, "Source: National sources, UN, J.P. Morgan.", size=4.9, color=GREY)

fig.savefig("out.png", dpi=100)
